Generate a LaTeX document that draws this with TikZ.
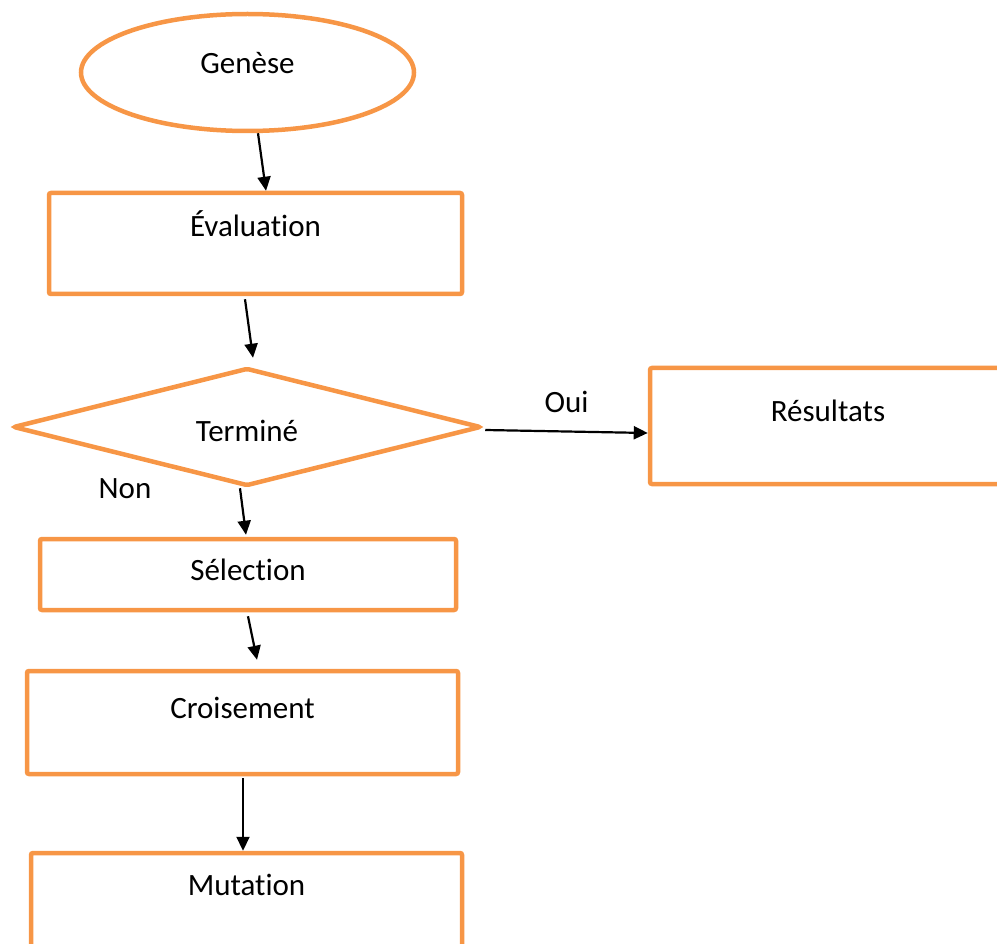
\documentclass[tikz,border=0pt]{standalone}
\usepackage{fontspec}
\setmainfont[Ligatures={NoCommon,NoRequired,NoContextual,NoRare},Contextuals=NoAlternate]{Carlito}
\usetikzlibrary{shapes.geometric,arrows.meta}
\definecolor{boxorange}{HTML}{F79646}
\begin{document}
\begin{tikzpicture}[x=1pt, y=1pt,
    every node/.style={font=\fontsize{31}{37}\selectfont},
    block/.style={draw=boxorange, line width=4.5pt, rounded corners=2pt, inner sep=0pt, text height=20pt},
    flow/.style={-{Triangle[length=14pt,width=13pt]}, line width=2.2pt}]
    \path [use as bounding box, clip] (0,0) rectangle (997,-944);

    % Steps
    \node [block, ellipse, minimum width=333pt, minimum height=117pt, text depth=17pt] (genese) at (247.5,-72.5) {Genèse};
    \node [block, minimum width=413pt, minimum height=101pt, text depth=33pt] (evaluation) at (255.5,-243.5) {Évaluation};
    \node [block, diamond, aspect=4, minimum width=468pt, minimum height=118pt, text height=34pt, text depth=6pt] (termine) at (247,-427) {Terminé};
    \node [block, minimum width=356pt, minimum height=116pt, text depth=30pt] (resultats) at (828,-426) {Résultats};
    \node [block, minimum width=416pt, minimum height=71pt, text depth=9pt] (selection) at (248,-574.5) {Sélection};
    \node [block, minimum width=431pt, minimum height=103pt, text depth=29pt] (croisement) at (242.5,-722.5) {Croisement};
    \node [block, minimum width=431pt, minimum height=101pt, text depth=36pt] (mutation) at (246.5,-903.5) {Mutation};

    % Links
    \draw [flow] ([xshift=10.5pt]genese.south) -- ([xshift=10.5pt]evaluation.north);
    \draw [flow] ([shift={(-10.5pt,-3pt)}]evaluation.south) -- ([shift={(6pt,8pt)}]termine.north);
    \draw [flow] ([shift={(2pt,-3pt)}]termine.east) -- ([yshift=-7pt]resultats.west) node [midway, above=14pt] (oui) {Oui};
    \node (non) at (125,-489) {Non};
    \draw [flow] ([xshift=-7pt]termine.south) -- ([shift={(-2pt,2pt)}]selection.north);
    \draw [flow] ([yshift=-4pt]selection.south) -- ([shift={(14.5pt,9pt)}]croisement.north);
    \draw [flow] ([shift={(0.5pt,-2pt)}]croisement.south) -- ([xshift=-3.5pt]mutation.north);
\end{tikzpicture}
\end{document}
